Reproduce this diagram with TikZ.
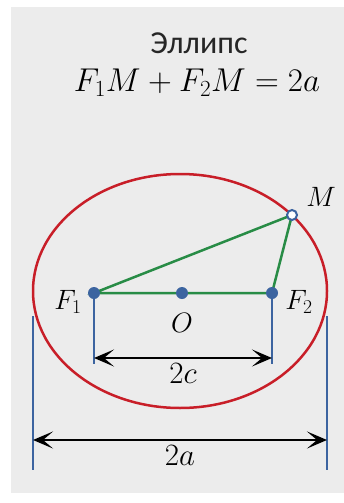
\RequirePackage{fix-cm}
\documentclass[tikz,border=0pt]{standalone}
\usepackage{fontspec}
\setmainfont{Carlito}
\usepackage{tikz}
\usetikzlibrary{arrows.meta}

\definecolor{ellred}{RGB}{200,30,40}
\definecolor{ellgreen}{RGB}{40,140,70}
\definecolor{ellblue}{RGB}{60,100,160}
\definecolor{ellbg}{RGB}{236,236,236}

\begin{document}
\begin{tikzpicture}[x=1pt, y=-1pt, font=\fontsize{28}{32}\selectfont,
  dot/.style={circle, fill=ellblue, inner sep=0pt, minimum size=12pt},
  opendot/.style={circle, draw=ellblue, fill=white, line width=2pt, inner sep=0pt, minimum size=10pt},
  guide/.style={ellblue, line width=2pt},
  dim/.style={black, line width=2.5pt, {Stealth[length=20pt,width=17pt,inset=10pt]}-{Stealth[length=20pt,width=17pt,inset=10pt]}},
  dimlabel/.style={font=\fontsize{31}{35}\selectfont, below=1pt}]
  \useasboundingbox (0,0) rectangle (344,503);
  \fill[ellbg] (11,7) rectangle (344,493);
  \node[font=\fontsize{32}{36}\selectfont, black!85] (title) at (199,43) {Эллипс};
  \node[font=\fontsize{33}{38}\selectfont] (law) at (197,83) {$F_1M + F_2M = 2a$};
  % points
  \coordinate (F1) at (94,293); \coordinate (F2) at (272,293); \coordinate (O) at (182,293);
  \coordinate (M) at (292,215);
  \draw[ellred, line width=2.5pt] (180,291) ellipse [x radius=147, y radius=117];
  % guides
  \draw[guide] (F1) -- (F1 |- 0,364) coordinate (F1b);
  \draw[guide] (F2) -- (F2 |- 0,364) coordinate (F2b);
  \draw[guide] (33,316) coordinate (La) -- (33,470) coordinate (Lb);
  \draw[guide] (327,316) coordinate (Ra) -- (327,470) coordinate (Rb);
  \draw[dim] (F1 |- 0,358) -- node[dimlabel] (c2) {$2c$} (F2 |- 0,358);
  \draw[dim] (La |- 0,440) -- node[dimlabel] (a2) {$2a$} (Ra |- 0,440);
  % triangle
  \draw[ellgreen, line width=2.5pt] (F1) -- (M) -- (F2) -- cycle;
  \node[dot] (f1) at (F1) {}; \node[dot] (f2) at (F2) {}; \node[dot] (o) at (O) {};
  \node[opendot] (m) at (M) {};
  \node (lf1) at (68,302) {$F_1$};
  \node (lf2) at (299,302) {$F_2$};
  \node (lo) at (182,323) {$O$};
  \node (lm) at (321,197) {$M$};
\end{tikzpicture}
\end{document}
